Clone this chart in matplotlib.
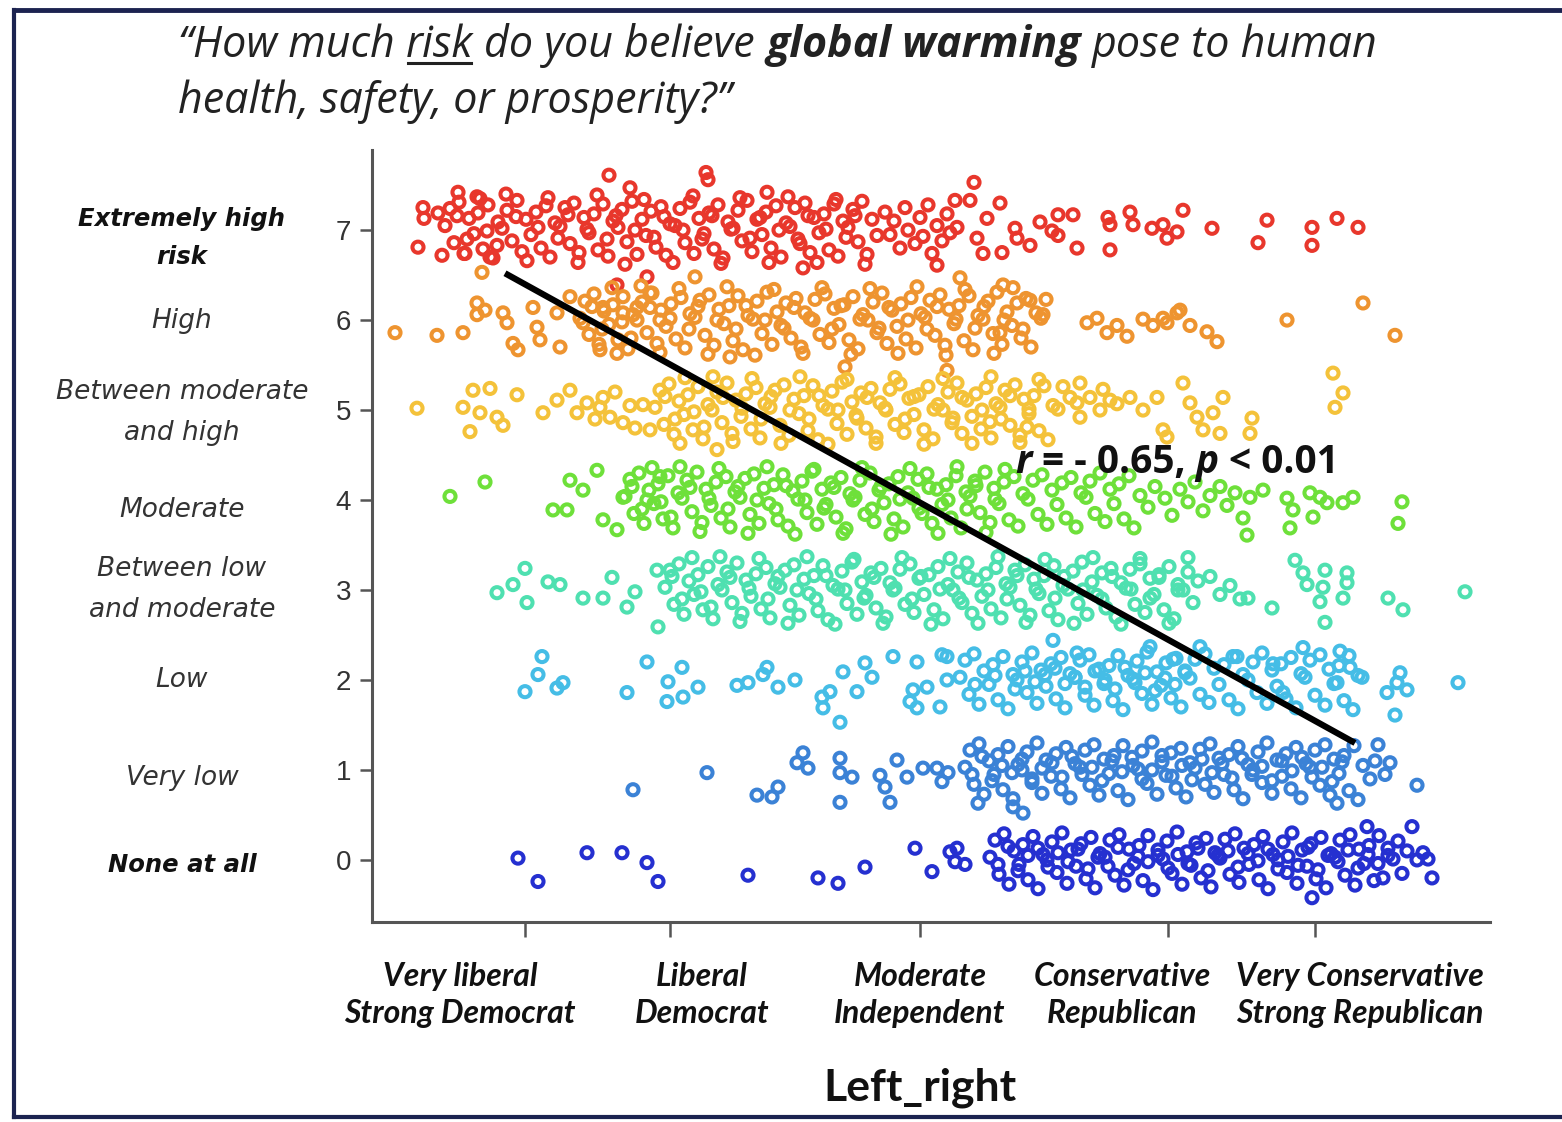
import matplotlib
matplotlib.use('Agg')
import matplotlib.pyplot as plt
import matplotlib.transforms as mtransforms
from matplotlib.lines import Line2D

# ---------------- data ----------------
row_levels = [7, 6, 5, 4, 3, 2, 1, 0]
row_labels = ["Extremely high\nrisk", "High", "Between moderate\nand high", "Moderate",
              "Between low\nand moderate", "Low", "Very low", "None at all"]
row_colors = ['#e8372c', '#ee9430', '#f4c23a', '#6ee03a', '#4fe0b0', '#45bde6', '#3b82d6', '#2530d0']

x_tick_pos = [-3.95, -2.50, 0.00, 2.48, 3.95]
x_label_pos = [-4.60, -2.18, 0.00, 2.02, 4.40]
x_labels = ["Very liberal\nStrong Democrat", "Liberal\nDemocrat", "Moderate\nIndependent",
            "Conservative\nRepublican", "Very Conservative\nStrong Republican"]

fit_x = [-4.15, 4.35]
fit_y = [6.52, 1.30]

pts_7 = [(-5.02,6.81),(-4.97,7.25),(-4.96,7.13),(-4.82,7.19),(-4.78,6.72),(-4.62,7.42),(-4.55,6.74),(-4.30,6.70),(-4.40,7.35),
(-4.75,7.05),(-4.70,7.24),(-4.66,6.86),(-4.61,7.31),(-4.56,6.74),(-4.51,7.13),(-4.46,6.96),(-4.42,7.19),(-4.37,6.79),(-4.32,7.28),(-4.27,6.69),(-4.22,7.09),
(-4.18,7.02),(-4.13,7.22),(-4.08,6.88),(-4.03,7.33),(-3.98,6.76),(-3.94,7.12),(-3.89,6.95),(-3.84,7.20),(-3.79,6.80),(-3.74,7.27),(-3.70,6.70),(-3.65,7.08),
(-3.60,7.04),(-3.55,7.25),(-3.50,6.85),(-3.46,7.30),(-3.41,6.75),(-3.36,7.14),(-3.31,6.97),(-3.26,7.18),(-3.22,6.78),(-3.17,7.29),(-3.12,6.71),(-3.07,7.10),
(-3.02,7.03),(-2.98,7.23),(-2.93,6.87),(-2.88,7.32),(-2.83,6.73),(-2.78,7.12),(-2.74,6.94),(-2.69,7.21),(-2.64,6.81),(-2.59,7.26),(-2.54,6.72),(-2.50,7.07),
(-2.45,7.05),(-2.40,7.24),(-2.35,6.86),(-2.30,7.31),(-2.26,6.74),(-2.21,7.13),(-2.16,6.96),(-2.11,7.19),(-2.06,6.79),(-2.02,7.28),(-1.97,6.69),(-1.92,7.09),
(-1.87,7.02),(-1.82,7.22),(-1.78,6.88),(-1.73,7.33),(-1.68,6.76),(-1.63,7.12),(-1.58,6.95),(-1.54,7.20),(-1.49,6.80),(-1.44,7.27),(-1.39,6.70),(-1.34,7.08),
(-1.30,7.04),(-1.25,7.25),(-1.20,6.85),(-1.15,7.30),(-1.10,6.75),(-1.06,7.14),(-1.01,6.97),(-0.96,7.18),(-0.91,6.78),(-0.86,7.29),(-0.82,6.71),(-0.77,7.10),
(-0.72,7.03),(-0.67,7.23),(-0.62,6.87),(-0.58,7.32),(-0.53,6.73),(-0.48,7.12),(-0.43,6.94),
(-4.63,7.16),(-4.53,6.90),(-4.43,7.37),(-4.33,6.99),(-4.23,6.83),(-4.14,7.40),(-4.04,7.15),(-3.93,6.66),(-3.82,7.03),(-3.72,7.36),(-3.62,6.91),(-3.52,7.17),
(-3.42,6.64),(-3.33,7.01),(-3.23,7.39),(-3.13,6.90),(-3.04,7.16),(-2.95,6.62),(-2.85,7.00),(-2.76,7.34),(-2.66,6.92),(-2.56,7.15),(-2.47,6.64),(-2.37,7.00),
(-2.27,7.38),(-2.18,6.90),(-2.08,7.16),(-1.99,6.63),(-1.89,7.01),(-1.80,7.36),(-1.70,6.91),(-1.60,7.14),(-1.51,6.64),(-1.41,7.00),(-1.32,7.37),(-1.22,6.90),
(-1.12,7.16),(-1.03,6.64),(-0.94,7.01),(-0.84,7.34),(-0.74,6.92),(-0.65,7.16),(-0.55,6.62),
(-3.11,7.61),(-2.14,7.64),(-2.12,7.56),(-2.90,7.47),(-3.03,6.39),(-2.73,6.48),(-1.53,7.42),(-1.17,6.58),(0.17,6.61),
(-0.35,7.20),(-0.30,6.95),(-0.26,7.10),(-0.20,6.80),(-0.15,7.25),(-0.12,7.00),(-0.05,6.85),(0.00,7.14),(0.03,6.93),(0.08,7.28),(0.12,6.74),(0.17,7.05),
(0.22,6.88),(0.27,7.18),(0.30,6.97),(0.35,7.33),(0.37,7.03),(0.50,7.33),(0.54,7.53),(0.57,6.91),(0.63,6.74),(0.67,7.13),(0.80,7.30),(0.82,6.75),(0.95,7.02),
(0.97,6.91),(1.10,6.83),(1.20,7.09),(1.32,6.99),(1.38,7.17),(1.38,6.94),(1.53,7.17),(1.57,6.80),(1.88,7.14),(1.90,7.06),(1.90,6.78),(2.10,7.20),(2.13,7.06),
(2.32,7.02),(2.43,7.06),(2.47,6.91),(2.57,6.98),(2.63,7.22),(2.92,7.02),(3.47,7.11),(3.38,6.86),(3.92,7.03),(3.92,6.83),(4.17,7.13),(4.38,7.03)]

pts_6 = [(-5.25,5.86),(-4.83,5.83),(-4.57,5.86),(-4.38,6.53),(-4.43,6.19),(-4.43,6.06),(-4.35,6.11),(-4.17,6.08),(-4.13,5.97),(-4.07,5.74),(-4.02,5.67),
(-3.87,6.14),(-3.83,5.92),(-3.80,5.78),(-3.63,6.08),(-3.60,5.70),(-3.50,6.26),(-3.37,5.97),(-3.20,5.67),(-3.03,5.63),(-3.17,6.14),(-2.97,6.08),(-2.83,6.14),
(-2.70,6.30),(-2.60,6.00),
(-3.40,6.02),(-3.35,6.21),(-3.31,5.84),(-3.26,6.29),(-3.21,5.73),(-3.16,6.10),(-3.11,5.95),(-3.07,6.17),(-3.02,5.78),(-2.97,6.26),(-2.92,5.68),(-2.87,6.06),
(-2.83,6.00),(-2.78,6.20),(-2.73,5.86),(-2.68,6.30),(-2.63,5.74),(-2.59,6.11),(-2.54,5.93),(-2.49,6.18),(-2.44,5.79),(-2.39,6.25),(-2.35,5.69),(-2.30,6.07),
(-2.25,6.03),(-2.20,6.22),(-2.15,5.83),(-2.11,6.28),(-2.06,5.72),(-2.01,6.12),(-1.96,5.96),(-1.91,6.16),(-1.87,5.77),(-1.82,6.27),(-1.77,5.67),(-1.72,6.05),
(-1.67,6.01),(-1.63,6.21),(-1.58,5.85),(-1.53,6.31),(-1.48,5.73),(-1.43,6.09),(-1.39,5.94),(-1.34,6.19),(-1.29,5.80),(-1.24,6.24),(-1.19,5.70),(-1.15,6.08),
(-1.10,6.02),(-1.05,6.23),(-1.00,5.84),(-0.95,6.29),(-0.91,5.75),(-0.86,6.13),(-0.81,5.95),(-0.76,6.17),(-0.71,5.78),(-0.67,6.26),(-0.62,5.68),(-0.57,6.06),
(-0.52,6.00),(-0.47,6.20),(-0.43,5.86),(-0.38,6.30),(-0.33,5.74),(-0.28,6.11),(-0.23,5.93),(-0.19,6.18),(-0.14,5.79),(-0.09,6.25),(-0.04,5.69),(0.01,6.07),
(0.05,6.03),(0.10,6.22),(0.15,5.83),(0.20,6.28),(0.25,5.72),(0.29,6.12),(0.34,5.96),(0.39,6.16),(0.44,5.77),(0.49,6.27),(0.53,5.67),(0.58,6.05),
(0.63,6.01),(0.68,6.21),(0.73,5.85),(0.77,6.31),(0.82,5.73),(0.87,6.09),(0.92,5.94),(0.97,6.19),(1.01,5.80),(1.06,6.24),(1.11,5.70),(1.16,6.08),(1.21,6.02),(1.26,6.23),
(-3.28,6.15),(-3.18,5.90),(-3.08,6.36),(-2.98,5.98),(-2.89,5.80),(-2.79,6.38),(-2.70,6.14),(-2.60,5.64),(-2.50,6.02),(-2.41,6.35),(-2.31,5.90),(-2.22,6.15),
(-2.12,5.62),(-2.03,6.00),(-1.93,6.37),(-1.84,5.90),(-1.74,6.16),(-1.65,5.61),(-1.55,6.00),(-1.46,6.34),(-1.36,5.91),(-1.26,6.14),(-1.17,5.63),(-1.07,6.00),
(-0.98,6.36),(-0.88,5.90),(-0.79,6.16),(-0.69,5.62),(-0.60,6.01),(-0.50,6.35),(-0.41,5.91),(-0.31,6.14),(-0.22,5.63),(-0.12,6.00),(-0.03,6.37),(0.07,5.90),
(0.17,6.15),(0.26,5.61),(0.36,6.01),(0.45,6.34),(0.55,5.91),(0.64,6.15),(0.74,5.63),(0.84,6.00),(0.93,6.36),(1.03,5.90),
(-2.25,6.48),(-0.75,5.48),(0.27,5.44),(-1.90,5.59),(0.40,6.47),(0.83,6.39),(1.10,6.22),(1.23,6.06),(0.80,5.86),
(1.67,5.97),(1.77,6.02),(1.87,5.86),(1.97,5.94),(2.07,5.82),(2.23,6.01),(2.33,5.94),(2.43,6.02),(2.47,5.97),(2.57,6.08),(2.60,6.11),(2.70,5.94),(2.87,5.87),
(2.97,5.76),(3.67,6.00),(4.43,6.19),(4.75,5.83)]

pts_5 = [(-5.03,5.02),(-4.57,5.03),(-4.47,5.22),(-4.30,5.24),(-4.40,4.97),(-4.23,4.92),(-4.17,4.83),(-4.50,4.76),(-4.03,5.17),(-3.77,4.97),(-3.63,5.11),
(-3.50,5.22),(-3.43,4.97),(-3.33,5.08),(-3.17,5.14),(-3.10,4.92),(-2.97,4.86),(-2.70,4.78),(-2.77,5.06),(-3.25,4.90),(-3.05,5.20),(-2.90,5.05),(-2.85,4.80),(-3.20,5.03),
(-2.65,5.03),(-2.60,5.22),(-2.56,4.84),(-2.51,5.29),(-2.46,4.73),(-2.41,5.10),(-2.36,4.95),(-2.32,5.17),(-2.27,4.78),(-2.22,5.26),(-2.17,4.68),(-2.12,5.06),
(-2.08,5.00),(-2.03,5.20),(-1.98,4.86),(-1.93,5.30),(-1.88,4.74),(-1.84,5.11),(-1.79,4.93),(-1.74,5.18),(-1.69,4.79),(-1.64,5.25),(-1.60,4.69),(-1.55,5.07),
(-1.50,5.03),(-1.45,5.22),(-1.40,4.83),(-1.36,5.28),(-1.31,4.72),(-1.26,5.12),(-1.21,4.96),(-1.16,5.16),(-1.12,4.77),(-1.07,5.27),(-1.02,4.67),(-0.97,5.05),
(-0.92,5.01),(-0.88,5.21),(-0.83,4.85),(-0.78,5.31),(-0.73,4.73),(-0.68,5.09),(-0.64,4.94),(-0.59,5.19),(-0.54,4.80),(-0.49,5.24),(-0.44,4.70),(-0.40,5.08),
(-0.35,5.02),(-0.30,5.23),(-0.25,4.84),(-0.20,5.29),(-0.16,4.75),(-0.11,5.13),(-0.06,4.95),(-0.01,5.17),(0.04,4.78),(0.08,5.26),(0.13,4.68),(0.18,5.06),
(0.23,5.00),(0.28,5.20),(0.32,4.86),(0.37,5.30),(0.42,4.74),(0.47,5.11),(0.52,4.93),(0.56,5.18),(0.61,4.79),(0.66,5.25),(0.71,4.69),(0.76,5.07),
(0.80,5.03),(0.85,5.22),(0.90,4.83),(0.95,5.28),(1.00,4.72),(1.04,5.12),(1.09,4.96),(1.14,5.16),(1.19,4.77),(1.24,5.27),(1.28,4.67),(1.33,5.05),(1.38,5.01),
(-2.55,5.15),(-2.45,4.90),(-2.35,5.36),(-2.26,4.98),(-2.16,4.81),(-2.07,5.37),(-1.97,5.14),(-1.87,4.65),(-1.78,5.02),(-1.68,5.35),(-1.59,4.90),(-1.49,5.15),
(-1.39,4.63),(-1.30,5.00),(-1.20,5.37),(-1.11,4.90),(-1.01,5.16),(-0.92,4.62),(-0.82,5.00),(-0.73,5.34),(-0.63,4.91),(-0.53,5.14),(-0.44,4.63),(-0.34,5.00),
(-0.25,5.36),(-0.15,4.90),(-0.06,5.15),(0.04,4.62),(0.14,5.01),(0.23,5.35),(0.33,4.91),(0.42,5.14),(0.52,4.63),(0.62,5.00),(0.71,5.37),(0.81,4.90),
(0.90,5.16),(1.00,4.64),(1.09,5.01),(1.19,5.34),(-2.40,4.63),(-2.03,4.56),
(1.43,5.26),(1.50,5.14),(1.57,5.08),(1.60,4.92),(1.70,5.14),(1.60,5.30),(1.80,5.00),(1.83,5.23),(1.90,5.11),(1.97,5.07),(2.10,5.14),(2.23,5.00),(2.37,5.14),
(2.43,4.78),(2.47,4.70),(2.63,5.30),(2.70,5.08),(2.77,4.92),(2.83,4.78),(2.93,4.97),(3.03,5.14),(3.00,4.74),(1.07,4.81),(0.70,4.87),(3.32,4.91),(3.30,4.74),
(4.13,5.41),(4.15,5.03),(4.23,5.19)]

pts_4 = [(-4.70,4.04),(-4.35,4.20),(-3.23,4.33),(-3.50,4.22),(-3.67,3.89),(-3.53,3.89),(-3.37,4.11),(-3.17,3.78),(-3.03,3.67),(-2.97,4.03),(-2.73,4.00),(-2.60,4.26),
(-2.95,4.04),(-2.90,4.23),(-2.86,3.85),(-2.81,4.30),(-2.76,3.74),(-2.71,4.11),(-2.66,3.96),(-2.62,4.18),(-2.57,3.79),(-2.52,4.27),(-2.47,3.69),(-2.42,4.08),
(-2.38,4.02),(-2.33,4.22),(-2.28,3.87),(-2.23,4.31),(-2.18,3.75),(-2.14,4.12),(-2.09,3.94),(-2.04,4.20),(-1.99,3.80),(-1.94,4.26),(-1.90,3.70),(-1.85,4.09),
(-1.80,4.03),(-1.75,4.24),(-1.70,3.84),(-1.66,4.29),(-1.61,3.74),(-1.56,4.13),(-1.51,3.96),(-1.46,4.17),(-1.42,3.78),(-1.37,4.28),(-1.32,3.71),(-1.27,4.10),
(-1.22,4.01),(-1.18,4.21),(-1.13,3.86),(-1.08,4.32),(-1.03,3.73),(-0.98,4.12),(-0.94,3.95),(-0.89,4.19),(-0.84,3.81),(-0.79,4.25),(-0.74,3.68),(-0.70,4.07),
(-0.65,4.03),(-0.60,4.22),(-0.55,3.84),(-0.50,4.30),(-0.46,3.76),(-0.41,4.11),(-0.36,3.97),(-0.31,4.18),(-0.26,3.79),(-0.22,4.26),(-0.17,3.70),(-0.12,4.08),
(-0.07,4.02),(-0.02,4.23),(0.02,3.85),(0.07,4.29),(0.12,3.74),(0.17,4.12),(0.22,3.95),(0.26,4.17),(0.31,3.80),(0.36,4.27),(0.41,3.69),(0.46,4.09),
(0.50,4.04),(0.55,4.21),(0.60,3.86),(0.65,4.31),(0.70,3.75),(0.74,4.13),(0.79,3.96),(0.84,4.20),(0.89,3.78),(0.94,4.26),(0.98,3.71),(1.03,4.07),
(1.08,4.01),(1.13,4.22),(1.18,3.84),(1.22,4.28),(1.27,3.73),(1.32,4.11),(1.37,3.95),(1.42,4.19),(1.46,3.80),(1.51,4.25),(1.56,3.70),(1.61,4.08),
(1.66,4.03),(1.70,4.21),(1.75,3.85),(1.80,4.30),(1.85,3.76),(1.90,4.12),(1.94,3.96),(1.99,4.18),(2.04,3.79),(2.09,4.27),(2.14,3.69),
(-2.88,4.15),(-2.78,3.90),(-2.68,4.36),(-2.59,3.98),(-2.49,3.81),(-2.40,4.37),(-2.30,4.14),(-2.20,3.65),(-2.11,4.02),(-2.01,4.35),(-1.92,3.90),(-1.82,4.15),
(-1.72,3.63),(-1.63,4.00),(-1.53,4.37),(-1.44,3.90),(-1.34,4.16),(-1.25,3.62),(-1.15,4.00),(-1.06,4.34),(-0.96,3.91),(-0.86,4.14),(-0.77,3.63),(-0.67,4.00),
(-0.58,4.36),(-0.48,3.90),(-0.39,4.15),(-0.29,3.62),(-0.20,4.01),(-0.10,4.35),(-0.01,3.91),(0.09,4.14),(0.18,3.63),(0.28,4.00),(0.37,4.37),(0.47,3.90),
(0.56,4.16),(0.66,3.64),(0.75,4.01),(0.85,4.34),
(2.20,4.05),(2.28,3.92),(2.35,4.15),(2.45,4.02),(2.52,3.83),(2.60,4.12),(2.68,3.98),(2.75,4.20),(2.83,3.88),(2.90,4.05),(3.00,4.15),(3.07,3.94),(3.15,4.08),
(3.23,3.80),(3.30,4.03),(3.43,4.11),(3.67,4.02),(3.73,3.89),(3.90,4.08),(4.00,4.03),(4.07,3.97),(4.23,3.97),(4.33,4.03),(3.93,3.81),(3.70,3.69),(3.27,3.61),
(4.82,3.98),(4.78,3.74)]

pts_3 = [(-4.23,2.97),(-4.07,3.06),(-3.95,3.24),(-3.93,2.86),(-3.72,3.09),(-3.60,3.06),(-3.37,2.91),(-3.17,2.91),(-3.08,3.14),(-2.93,2.81),(-2.85,2.98),(-2.62,2.59),(-2.63,3.22),
(-2.55,3.03),(-2.50,3.22),(-2.46,2.84),(-2.41,3.29),(-2.36,2.73),(-2.31,3.10),(-2.26,2.95),(-2.22,3.17),(-2.17,2.78),(-2.12,3.26),(-2.07,2.68),(-2.02,3.06),
(-1.98,3.00),(-1.93,3.20),(-1.88,2.86),(-1.83,3.30),(-1.78,2.74),(-1.74,3.11),(-1.69,2.93),(-1.64,3.18),(-1.59,2.79),(-1.54,3.25),(-1.50,2.69),(-1.45,3.07),
(-1.40,3.03),(-1.35,3.22),(-1.30,2.83),(-1.26,3.28),(-1.21,2.72),(-1.16,3.12),(-1.11,2.96),(-1.06,3.16),(-1.02,2.77),(-0.97,3.27),(-0.92,2.67),(-0.87,3.05),
(-0.82,3.01),(-0.78,3.21),(-0.73,2.85),(-0.68,3.31),(-0.63,2.73),(-0.58,3.09),(-0.54,2.94),(-0.49,3.19),(-0.44,2.80),(-0.39,3.24),(-0.34,2.70),(-0.30,3.08),
(-0.25,3.02),(-0.20,3.23),(-0.15,2.84),(-0.10,3.29),(-0.06,2.75),(-0.01,3.13),(0.04,2.95),(0.09,3.17),(0.14,2.78),(0.18,3.26),(0.23,2.68),(0.28,3.06),
(0.33,3.00),(0.38,3.20),(0.42,2.86),(0.47,3.30),(0.52,2.74),(0.57,3.11),(0.62,2.93),(0.66,3.18),(0.71,2.79),(0.76,3.25),(0.81,2.69),(0.86,3.07),
(0.90,3.03),(0.95,3.22),(1.00,2.83),(1.05,3.28),(1.10,2.72),(1.14,3.12),(1.19,2.96),(1.24,3.16),(1.29,2.77),(1.34,3.27),(1.38,2.67),(1.43,3.05),
(1.48,3.01),(1.53,3.21),(1.58,2.85),(1.62,3.31),(1.67,2.73),(1.72,3.09),(1.77,2.94),(1.82,3.19),(1.86,2.80),(1.91,3.24),(1.96,2.70),(2.01,3.08),
(2.06,3.02),(2.10,3.23),(2.15,2.84),(2.20,3.29),(2.25,2.75),(2.30,3.13),(2.34,2.95),(2.39,3.17),(2.44,2.78),(2.49,3.26),(2.54,2.68),(2.58,3.06),
(2.63,3.00),(2.68,3.20),(2.73,2.86),(2.78,3.10),
(-2.48,3.15),(-2.38,2.90),(-2.28,3.36),(-2.19,2.98),(-2.09,2.81),(-2.00,3.37),(-1.90,3.14),(-1.80,2.65),(-1.71,3.02),(-1.61,3.35),(-1.52,2.90),(-1.42,3.15),
(-1.32,2.63),(-1.23,3.00),(-1.13,3.37),(-1.04,2.90),(-0.94,3.16),(-0.85,2.62),(-0.75,3.00),(-0.66,3.34),(-0.56,2.91),(-0.46,3.14),(-0.37,2.63),(-0.27,3.00),
(-0.18,3.36),(-0.08,2.90),(0.01,3.15),(0.11,2.62),(0.20,3.01),(0.30,3.35),(0.39,2.91),(0.49,3.14),(0.58,2.63),(0.68,3.00),(0.78,3.37),(0.87,2.90),
(0.97,3.16),(1.06,2.64),(1.16,3.01),(1.25,3.34),(1.35,2.91),(1.44,3.15),(1.54,2.63),(1.63,3.00),(1.73,3.36),(1.82,2.90),(1.92,3.15),(2.01,2.62),
(2.11,3.01),(2.20,3.35),(2.30,2.91),(2.39,3.14),(2.49,2.63),(2.58,3.00),(2.68,3.36),
(2.90,3.15),(3.00,2.95),(3.10,3.05),(3.20,2.90),(3.28,2.91),(3.52,2.80),(3.75,3.33),(3.83,3.19),(3.87,3.06),(4.05,3.22),(4.03,3.03),(4.27,3.19),(4.27,3.08),
(4.23,2.91),(4.00,2.87),(4.05,2.64),(4.68,2.91),(4.83,2.78),(5.45,2.98)]

pts_2 = [(-3.78,2.26),(-3.82,2.06),(-3.95,1.87),(-3.63,1.91),(-3.57,1.97),(-2.93,1.86),(-2.73,2.20),(-2.53,1.76),(-2.38,2.14),(-2.22,1.92),(-2.37,1.81),(-2.52,1.98),
(-1.83,1.94),(-1.72,1.97),(-1.53,2.14),(-1.57,2.06),(-1.42,1.92),(-1.25,2.00),(-0.98,1.81),(-0.90,1.87),(-0.97,1.69),(-0.80,1.53),(-0.77,2.09),(-0.63,1.87),
(-0.55,2.19),(-0.48,2.03),(-0.27,2.26),(-0.03,2.20),(0.22,2.28),(0.27,2.26),(-0.07,1.89),(-0.10,1.76),(-0.03,1.69),(0.07,1.92),(0.27,2.00),(0.20,1.70),
(0.40,2.03),(0.45,2.22),(0.49,1.84),(0.54,2.29),(0.59,1.73),(0.64,2.10),(0.69,1.95),(0.73,2.17),(0.78,1.78),(0.83,2.26),(0.88,1.68),(0.93,2.06),
(0.97,2.00),(1.02,2.20),(1.07,1.86),(1.12,2.30),(1.17,1.74),(1.21,2.11),(1.26,1.93),(1.31,2.18),(1.36,1.79),(1.41,2.25),(1.45,1.69),(1.50,2.07),
(1.55,2.03),(1.60,2.22),(1.65,1.83),(1.69,2.28),(1.74,1.72),(1.79,2.12),(1.84,1.96),(1.89,2.16),(1.93,1.77),(1.98,2.27),(2.03,1.67),(2.08,2.05),
(2.13,2.01),(2.17,2.21),(2.22,1.85),(2.27,2.31),(2.32,1.73),(2.37,2.09),(2.41,1.94),(2.46,2.19),(2.51,1.80),(2.56,2.24),(2.61,1.70),(2.65,2.08),
(2.70,2.02),(2.75,2.23),(2.80,1.84),(2.85,2.29),(2.89,1.75),(2.94,2.13),(2.99,1.95),(3.04,2.17),(3.09,1.78),(3.13,2.26),(3.18,1.68),(3.23,2.06),
(3.28,2.00),(3.33,2.20),(3.37,1.86),(3.42,2.30),(3.47,1.74),(3.52,2.11),(3.57,1.93),(3.61,2.18),(3.66,1.79),(3.71,2.25),(3.76,1.69),(3.81,2.07),
(3.85,2.03),(3.90,2.22),(3.95,1.83),(4.00,2.28),(4.05,1.72),(4.09,2.12),(4.14,1.96),(4.19,2.16),(4.24,1.77),(4.29,2.27),(4.33,1.67),(4.38,2.05),
(0.55,1.95),(0.75,2.05),(0.95,1.90),(1.05,2.10),(1.15,1.98),(1.25,2.06),(1.35,2.13),(1.45,1.96),(1.55,2.03),(1.65,1.92),(1.75,2.10),(1.85,2.00),(1.95,1.90),
(2.05,2.14),(2.15,1.97),(2.25,2.08),(2.35,1.88),(2.45,2.02),(2.55,1.95),(2.65,2.10),(2.30,2.37),(2.53,2.23),(2.80,2.37),(3.17,2.26),(1.33,2.44),(1.57,2.30),
(4.80,2.08),(4.77,1.97),(4.87,1.89),(4.67,1.86),(4.75,1.61),(4.20,2.32),(4.30,2.14),(4.17,1.97),(4.42,2.03),(3.83,2.36),(3.53,2.18),(3.63,1.86),(5.38,1.97)]

pts_1 = [(-2.87,0.78),(-2.13,0.97),(-1.63,0.72),(-1.48,0.70),(-1.42,0.81),(-1.23,1.08),(-1.17,1.19),(-1.12,1.02),(-0.80,1.13),(-0.80,0.97),(-0.68,0.92),
(-0.80,0.64),(-0.40,0.94),(-0.35,0.81),(-0.30,0.64),(-0.23,1.11),(-0.13,0.92),(0.03,1.02),(0.17,1.02),(0.22,0.87),(0.28,0.97),
(0.45,1.03),(0.50,1.22),(0.54,0.84),(0.59,1.29),(0.64,0.73),(0.69,1.10),(0.74,0.95),(0.78,1.17),(0.83,0.78),(0.88,1.26),(0.93,0.68),(0.98,1.06),
(1.02,1.00),(1.07,1.20),(1.12,0.86),(1.17,1.30),(1.22,0.74),(1.26,1.11),(1.31,0.93),(1.36,1.18),(1.41,0.79),(1.46,1.25),(1.50,0.69),(1.55,1.07),
(1.60,1.03),(1.65,1.22),(1.70,0.83),(1.74,1.28),(1.79,0.72),(1.84,1.12),(1.89,0.96),(1.94,1.16),(1.98,0.77),(2.03,1.27),(2.08,0.67),(2.13,1.05),
(2.18,1.01),(2.22,1.21),(2.27,0.85),(2.32,1.31),(2.37,0.73),(2.42,1.09),(2.46,0.94),(2.51,1.19),(2.56,0.80),(2.61,1.24),(2.66,0.70),(2.70,1.08),
(2.75,1.02),(2.80,1.23),(2.85,0.84),(2.90,1.29),(2.94,0.75),(2.99,1.13),(3.04,0.95),(3.09,1.17),(3.14,0.78),(3.18,1.26),(3.23,0.68),(3.28,1.06),
(3.33,1.00),(3.38,1.20),(3.42,0.86),(3.47,1.30),(3.52,0.74),(3.57,1.11),(3.62,0.93),(3.66,1.18),(3.71,0.79),(3.76,1.25),(3.81,0.69),(3.86,1.07),
(3.90,1.03),(3.95,1.22),(4.00,0.83),(4.05,1.28),(4.10,0.72),(4.14,1.12),(4.19,0.96),(4.24,1.16),(4.29,0.77),(4.34,1.27),(4.38,0.67),(4.43,1.05),
(0.52,0.95),(0.62,1.15),(0.72,0.88),(0.82,1.05),(0.92,0.97),(1.02,1.12),(1.12,0.90),(1.22,1.02),(1.32,1.08),(1.42,0.92),(1.52,1.15),(1.62,0.95),
(1.72,1.03),(1.82,0.88),(1.92,1.10),(2.02,0.98),(2.12,1.14),(2.22,0.90),(2.32,1.00),(2.42,1.16),(2.52,0.93),(2.62,1.05),(2.72,0.89),(2.82,1.12),
(2.92,0.97),(3.02,1.07),(3.12,0.91),(3.22,1.13),(3.32,0.95),(3.42,1.04),(3.52,0.88),(3.62,1.10),(3.72,0.99),(3.82,1.14),(3.92,0.92),(4.02,1.03),
(4.12,0.87),(4.22,1.09),
(0.93,0.59),(1.03,0.52),(0.58,0.63),(4.17,0.63),(4.58,1.28),(4.70,1.08),(4.97,0.83),(4.50,0.90),(4.55,1.10),(4.65,0.95)]

pts_0 = [(-4.02,0.02),(-3.82,-0.24),(-3.33,0.08),(-2.98,0.08),(-2.73,-0.03),(-2.62,-0.24),(-1.72,-0.17),(-1.02,-0.20),(-0.82,-0.26),(-0.55,-0.08),
(-0.05,0.13),(0.12,-0.13),(0.30,0.09),(0.35,-0.02),(0.37,0.13),(0.45,-0.05),
(0.70,0.03),(0.75,0.22),(0.79,-0.16),(0.84,0.29),(0.89,-0.27),(0.94,0.10),(0.99,-0.05),(1.03,0.17),(1.08,-0.22),(1.13,0.26),(1.18,-0.32),(1.23,0.06),
(1.27,0.00),(1.32,0.20),(1.37,-0.14),(1.42,0.30),(1.47,-0.26),(1.51,0.11),(1.56,-0.07),(1.61,0.18),(1.66,-0.21),(1.71,0.25),(1.75,-0.31),(1.80,0.07),
(1.85,0.03),(1.90,0.22),(1.95,-0.17),(1.99,0.28),(2.04,-0.28),(2.09,0.12),(2.14,-0.04),(2.19,0.16),(2.23,-0.23),(2.28,0.27),(2.33,-0.33),(2.38,0.05),
(2.43,0.01),(2.47,0.21),(2.52,-0.15),(2.57,0.31),(2.62,-0.27),(2.67,0.09),(2.71,-0.06),(2.76,0.19),(2.81,-0.20),(2.86,0.24),(2.91,-0.30),(2.95,0.08),
(3.00,0.02),(3.05,0.23),(3.10,-0.16),(3.15,0.29),(3.19,-0.25),(3.24,0.13),(3.29,-0.05),(3.34,0.17),(3.39,-0.22),(3.43,0.26),(3.48,-0.32),(3.53,0.06),
(3.58,0.00),(3.63,0.20),(3.67,-0.14),(3.72,0.30),(3.77,-0.26),(3.82,0.11),(3.87,-0.07),(3.91,0.18),(3.96,-0.21),(4.01,0.25),(4.06,-0.31),(4.11,0.07),
(4.15,0.03),(4.20,0.22),(4.25,-0.17),(4.30,0.28),(4.35,-0.28),(4.39,0.12),(4.44,-0.04),(4.49,0.16),(4.54,-0.23),(4.59,0.27),(4.63,-0.20),(4.68,0.05),
(4.73,0.01),(4.78,0.21),(4.82,-0.15),(4.87,0.10),
(0.78,-0.05),(0.88,0.15),(0.98,-0.12),(1.08,0.05),(1.18,0.13),(1.28,-0.08),(1.38,0.08),(1.48,-0.02),(1.58,0.12),(1.68,-0.10),(1.78,0.03),(1.88,-0.07),
(1.98,0.14),(2.08,-0.11),(2.18,0.04),(2.28,-0.02),(2.38,0.11),(2.48,-0.09),(2.58,0.06),(2.68,-0.04),(2.78,0.13),(2.88,-0.12),(2.98,0.05),(3.08,0.10),
(3.18,-0.08),(3.28,0.07),(3.38,-0.01),(3.48,0.12),(3.58,-0.10),(3.68,0.04),(3.78,-0.06),(3.88,0.14),(3.98,-0.11),(4.08,0.05),(4.18,-0.02),(4.28,0.11),
(4.38,-0.09),(4.48,0.06),(4.58,-0.04),(4.68,0.13),
(4.92,0.37),(5.03,0.08),(5.12,-0.20),(4.97,0.00),(5.08,0.01),(3.92,-0.42),(4.47,0.37)]

rows = [pts_7, pts_6, pts_5, pts_4, pts_3, pts_2, pts_1, pts_0]

# ---------------- figure ----------------
W, H = 1562, 1122
fig = plt.figure(figsize=(W / 100, H / 100), dpi=100)
fig.patch.set_facecolor('white')
ax = fig.add_axes([372 / W, 1 - 922 / H, (1490 - 372) / W, (922 - 150) / H])

for pts, col in zip(rows, row_colors):
    xs = [p[0] for p in pts]
    ys = [p[1] for p in pts]
    ax.scatter(xs, ys, s=64, facecolors='none', edgecolors=col, linewidths=2.9, zorder=2)

ax.plot(fit_x, fit_y, color='black', lw=4.5, solid_capstyle='butt', zorder=4)

ax.set_xlim(-5.48, 5.70)
ax.set_ylim(-0.69, 7.89)
for s in ['top', 'right']:
    ax.spines[s].set_visible(False)
for s in ['left', 'bottom']:
    ax.spines[s].set_color('#555555')
    ax.spines[s].set_linewidth(2.2)

ax.set_yticks(row_levels)
ax.set_yticklabels([str(v) for v in row_levels], family='Liberation Sans', fontsize=20, color='#333333')
ax.tick_params(axis='y', length=9, width=1.8, color='#555555', pad=6)
ax.set_xticks(x_tick_pos)
ax.tick_params(axis='x', length=11, width=1.8, color='#555555', labelbottom=False)

# category labels on the left
lab_y = [6.91, 5.99, 4.97, 3.89, 3.00, 2.00, 0.91, -0.06]
ytrans = mtransforms.blended_transform_factory(ax.transAxes, ax.transData)
for lab, yy, lv in zip(row_labels, lab_y, row_levels):
    bold = lv in (7, 0)
    ax.text(-0.170, yy, lab, transform=ytrans, ha='center', va='center', multialignment='center',
            family='DejaVu Sans', style='italic', weight='bold' if bold else 'normal',
            fontsize=17.5 if bold else 19, color='#111111' if bold else '#333333', linespacing=1.75)

# x category labels
xtrans = mtransforms.blended_transform_factory(ax.transData, fig.transFigure)
for lab, xx in zip(x_labels, x_label_pos):
    ax.text(xx, 1 - 995 / H, lab, transform=xtrans, ha='center', va='center', multialignment='center',
            family='Lato', style='italic', weight='bold', fontsize=23, color='#111111', linespacing=1.35)

fig.text(920 / W, 1 - 1088 / H, 'Left_right', ha='center', va='center', family='Lato',
         weight='bold', fontsize=32, color='#111111')

# ---------- piecewise rich text helper ----------
renderer = fig.canvas.get_renderer()
ident = mtransforms.IdentityTransform()

def space_w(props):
    t1 = fig.text(0, 0, 'n n', transform=ident, **props)
    t2 = fig.text(0, 0, 'nn', transform=ident, **props)
    w = t1.get_window_extent(renderer).width - t2.get_window_extent(renderer).width
    t1.remove(); t2.remove()
    return w

def place_pieces(x, y, pieces, base, zorder=5):
    for s, kw, ul in pieces:
        props = dict(base); props.update(kw)
        t = fig.text(x, y, s, transform=ident, ha='left', va='baseline', zorder=zorder, **props)
        bb = t.get_window_extent(renderer)
        if ul:
            fig.add_artist(Line2D([bb.x0 + 2, bb.x1 - 2], [y - 6, y - 6], transform=ident,
                                  color=props.get('color', 'k'), lw=2.2))
        x = bb.x1 + space_w(props)

title_base = dict(family='Open Sans', style='italic', fontsize=31, color='#222222')
place_pieces(178, H - 57, [("\u201cHow much", {}, False), ("risk", {}, True), ("do you believe", {}, False),
                           ("global warming", {'weight': 'bold'}, False), ("pose to human", {}, False)], title_base)
place_pieces(178, H - 113, [("health, safety, or prosperity?\u201d", {}, False)], title_base)

# correlation annotation
ax_pt = ax.transData.transform((0.95, 4.30))
ann_base = dict(family='Open Sans', weight='bold', fontsize=28, color='#111111')
place_pieces(ax_pt[0], ax_pt[1], [("r", {'style': 'italic'}, False), ("= - 0.65,", {}, False),
                                   ("p", {'style': 'italic'}, False), ("< 0.01", {}, False)], ann_base)

# outer frame
frame_col = '#1c2350'
fig.add_artist(Line2D([14 / W, 1.0], [1 - 10 / H, 1 - 10 / H], transform=fig.transFigure, color=frame_col, lw=3.5))
fig.add_artist(Line2D([14 / W, 14 / W], [1 - 10 / H, 1 - 1117 / H], transform=fig.transFigure, color=frame_col, lw=3.0))
fig.add_artist(Line2D([14 / W, 1.0], [1 - 1117 / H, 1 - 1117 / H], transform=fig.transFigure, color=frame_col, lw=3.0))

fig.savefig('out.png', dpi=100)
